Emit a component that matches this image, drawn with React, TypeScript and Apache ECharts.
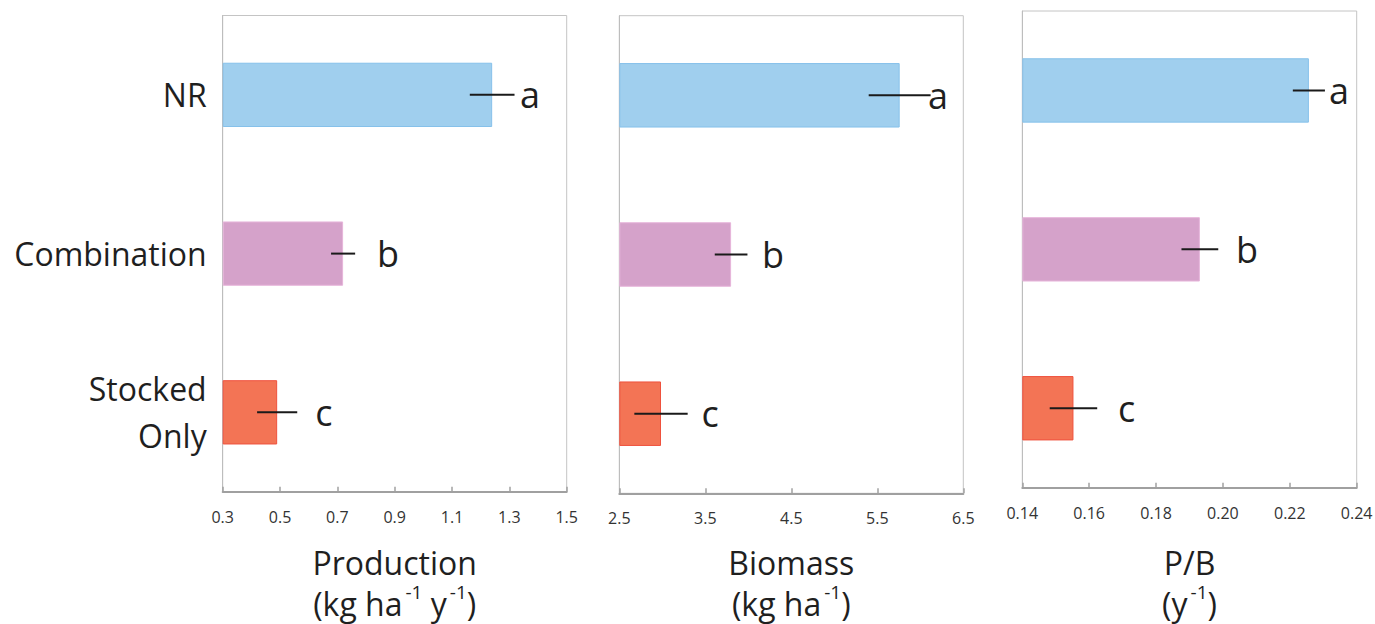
import React, { useEffect, useRef } from "react";
import * as echarts from "echarts";

const categories = ["NR", "Combination", "Stocked\nOnly"];
const letters = ["a", "b", "c"];

const productionMean = [1.24, 0.72, 0.49];
const productionErr = [0.078, 0.042, 0.07];
const productionLetterAt = [1.372, 0.877, 0.653];

const biomassMean = [5.76, 3.8, 2.985];
const biomassErr = [0.36, 0.19, 0.31];
const biomassLetterAt = [6.206, 4.287, 3.555];

const pbMean = [0.2257, 0.1931, 0.1553];
const pbErr = [0.0048, 0.0055, 0.0071];
const pbLetterAt = [0.2347, 0.2072, 0.1712];

const productionTitle = "Production\n(kg ha{sup|-1} y{sup|-1})";
const biomassTitle = "Biomass\n(kg ha{sup|-1})";
const pbTitle = "P/B\n(y{sup|-1})";

const barColors = ["#A0CFEE", "#D5A2CA", "#F37455"];
const barBorders = ["#86C1EA", "#E6B4DA", "#EF513D"];

const FONT = "Open Sans";

type Panel = {
  mean: number[];
  err: number[];
  letterAt: number[];
  title: string;
  base: number;
  scale: number;
  max: number;
  interval: number;
  digits: number;
  grid: { left: number; top: number; width: number; height: number };
  nameGap: number;
};

const panels: Panel[] = [
  {
    mean: productionMean,
    err: productionErr,
    letterAt: productionLetterAt,
    title: productionTitle,
    base: 0.3,
    scale: 10,
    max: 12,
    interval: 2,
    digits: 1,
    grid: { left: 222.7, top: 15.5, width: 344, height: 476.2 },
    nameGap: 49.8,
  },
  {
    mean: biomassMean,
    err: biomassErr,
    letterAt: biomassLetterAt,
    title: biomassTitle,
    base: 2.5,
    scale: 1,
    max: 4,
    interval: 1,
    digits: 1,
    grid: { left: 619.3, top: 15.7, width: 344, height: 477.6 },
    nameGap: 48.2,
  },
  {
    mean: pbMean,
    err: pbErr,
    letterAt: pbLetterAt,
    title: pbTitle,
    base: 0.14,
    scale: 100,
    max: 10,
    interval: 2,
    digits: 2,
    grid: { left: 1022.3, top: 11, width: 334.4, height: 476.7 },
    nameGap: 53.8,
  },
];

export default function App() {
  const ref = useRef<HTMLDivElement>(null);
  useEffect(() => {
    if (!ref.current) return;
    const chart = echarts.init(ref.current, undefined, { renderer: "svg" });
    const t = (p: Panel, v: number) => (v - p.base) * p.scale;

    const grid = panels.map((p) => ({
      ...p.grid,
      show: true,
      borderColor: "#C4C4C4",
      borderWidth: 1,
      backgroundColor: "transparent",
      containLabel: false,
      outerBoundsMode: "none",
    }));

    const xAxis = panels.map((p, i) => ({
      type: "value",
      gridIndex: i,
      min: 0,
      max: p.max,
      interval: p.interval,
      splitLine: { show: false },
      axisLine: { show: true, lineStyle: { color: "#A0A0A0", width: 2 } },
      axisTick: { show: true, inside: true, length: 5, lineStyle: { color: "#A0A0A0", width: 1.5 } },
      axisLabel: {
        fontSize: 16,
        color: "#333",
        fontFamily: FONT,
        margin: 17,
        formatter: (v: number) => (v / p.scale + p.base).toFixed(p.digits),
      },
      name: p.title,
      nameLocation: "middle",
      nameGap: p.nameGap,
      nameTextStyle: {
        fontSize: 32,
        fontFamily: FONT,
        color: "#1f1f1f",
        lineHeight: 41,
        rich: {
          sup: {
            fontSize: 19,
            fontFamily: FONT,
            color: "#1f1f1f",
            lineHeight: 28,
            verticalAlign: "top",
            padding: [0, 0, 0, 3],
          },
        },
      },
    }));

    const yAxis = panels.map((p, i) => ({
      type: "category",
      gridIndex: i,
      data: categories,
      inverse: true,
      axisLine: { show: true, lineStyle: { color: "#BDBDBD", width: 1 } },
      axisTick: { show: false },
      splitLine: { show: false },
      axisLabel: {
        show: i === 0,
        fontSize: 32,
        fontFamily: FONT,
        color: "#1f1f1f",
        margin: 16,
        lineHeight: 47,
        align: "right",
      },
    }));

    const series: any[] = [];
    panels.forEach((p, i) => {
      series.push({
        type: "bar",
        xAxisIndex: i,
        yAxisIndex: i,
        barWidth: "40.5%",
        z: 2,
        data: p.mean.map((m, k) => ({
          value: t(p, m),
          itemStyle: { color: barColors[k], borderColor: barBorders[k], borderWidth: 1 },
        })),
      });
      series.push({
        type: "custom",
        xAxisIndex: i,
        yAxisIndex: i,
        z: 3,
        encode: { x: [0, 2, 3], y: 1 },
        data: p.mean.map((m, k) => [t(p, m - p.err[k]), k, t(p, m + p.err[k]), t(p, p.letterAt[k])]),
        renderItem: (params: any, api: any) => {
          const cat = api.value(1);
          const a = api.coord([api.value(0), cat]);
          const b = api.coord([api.value(2), cat]);
          const l = api.coord([api.value(3), cat]);
          return {
            type: "group",
            children: [
              {
                type: "line",
                shape: { x1: a[0], y1: a[1], x2: b[0], y2: b[1] },
                style: { stroke: "#1a1a1a", lineWidth: 2 },
              },
              {
                type: "text",
                x: l[0],
                y: l[1],
                style: {
                  text: letters[params.dataIndex],
                  fontSize: 36,
                  fontFamily: FONT,
                  fill: "#1f1f1f",
                  align: "center",
                  verticalAlign: "middle",
                },
              },
            ],
          };
        },
      });
    });

    chart.setOption({
      animation: false,
      backgroundColor: "#ffffff",
      grid,
      xAxis,
      yAxis,
      series,
    } as any);
    return () => chart.dispose();
  }, []);
  return (
    <div
      ref={ref}
      style={{ position: "absolute", left: 0, top: 0, width: 1375, height: 624 }}
    />
  );
}
